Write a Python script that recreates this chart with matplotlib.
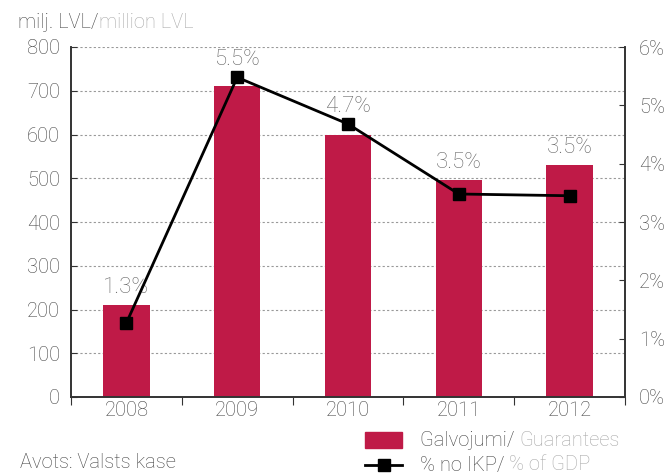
import matplotlib.pyplot as plt
from matplotlib.patches import Rectangle
from matplotlib.lines import Line2D

years = ["2008", "2009", "2010", "2011", "2012"]
guarantees = [210, 711, 598, 497, 530]
pct_gdp = [1.27, 5.48, 4.68, 3.48, 3.45]
pct_labels = ["1.3%", "5.5%", "4.7%", "3.5%", "3.5%"]

BAR = "#bf1a47"
DARK = "#444444"
LIGHT = "#a8a8a8"
FS = 14.5

plt.rcParams["font.family"] = ["Roboto", "DejaVu Sans"]
plt.rcParams["font.weight"] = "light"

fig = plt.figure(figsize=(6.71, 4.76), dpi=100)
ax = fig.add_axes([71 / 671, 1 - 397 / 476, 554 / 671, 350 / 476])
ax2 = ax.twinx()

x = list(range(len(years)))
ax.bar(x, guarantees, width=0.42, color=BAR, zorder=2)
ax.set_xlim(-0.5, 4.5)
ax.set_ylim(0, 800)
ax.set_yticks(range(0, 801, 100))
ax.yaxis.grid(True, linestyle=(0, (2, 2)), color="#999999", linewidth=0.8, zorder=0)
ax.set_axisbelow(True)
ax.set_xticks([i - 0.5 for i in range(6)])
ax.set_xticklabels([])
ax.set_xticks(x, minor=True)
ax.set_xticklabels(years, minor=True)
ax.tick_params(axis="x", which="major", direction="out", length=6, color="#333333")
ax.tick_params(axis="x", which="minor", length=0, labelsize=FS, labelcolor=DARK, pad=3)
ax.tick_params(axis="y", direction="in", length=4, labelsize=FS, labelcolor=DARK, color="#333333", pad=8)

ax2.plot(x, pct_gdp, color="black", linewidth=2, marker="s", markersize=9, zorder=5)
# labels sit just above the taller of bar / marker
for xi, g, p, lab in zip(x, guarantees, pct_gdp, pct_labels):
    top = max(g * 6 / 800, p)
    ax2.text(xi, top + 0.3, lab, ha="center", va="center", fontsize=16, color="#666666")
ax2.set_ylim(0, 6)
ax2.set_yticks(range(0, 7))
ax2.set_yticklabels([f"{v}%" for v in range(0, 7)])
ax2.tick_params(axis="y", direction="in", length=4, labelsize=FS, labelcolor=DARK, color="#333333", pad=10)

for a in (ax, ax2):
    a.spines["top"].set_visible(False)
    for s in ("left", "right", "bottom"):
        a.spines[s].set_color("#333333")
        a.spines[s].set_linewidth(1.2)

renderer = fig.canvas.get_renderer()


def two_tone(px, py, first, second):
    """Dark text followed directly by a light grey translation."""
    t = fig.text(px / 671, 1 - py / 476, first, fontsize=FS, color=DARK, va="center")
    bb = t.get_window_extent(renderer)
    fig.text(bb.x1 / fig.bbox.width, 1 - py / 476, second, fontsize=FS, color=LIGHT, va="center")


two_tone(18, 22, "milj. LVL/", "million LVL")
fig.text(20 / 671, 1 - 463 / 476, "Avots: Valsts kase", fontsize=FS, color=DARK, va="center")

# legend drawn by hand
fig.patches.append(Rectangle((365 / 671, 1 - 448 / 476), 37 / 671, 16 / 476,
                             transform=fig.transFigure, color=BAR))
two_tone(420, 440, "Galvojumi/ ", "Guarantees")
fig.lines.append(Line2D([365 / 671, 402 / 671], [1 - 465 / 476] * 2, transform=fig.transFigure,
                        color="black", linewidth=2))
fig.lines.append(Line2D([383.5 / 671], [1 - 465 / 476], transform=fig.transFigure,
                        color="black", marker="s", markersize=9))
two_tone(420, 465, "% no IKP/ ", "% of GDP")

fig.savefig("out.png", dpi=100)
